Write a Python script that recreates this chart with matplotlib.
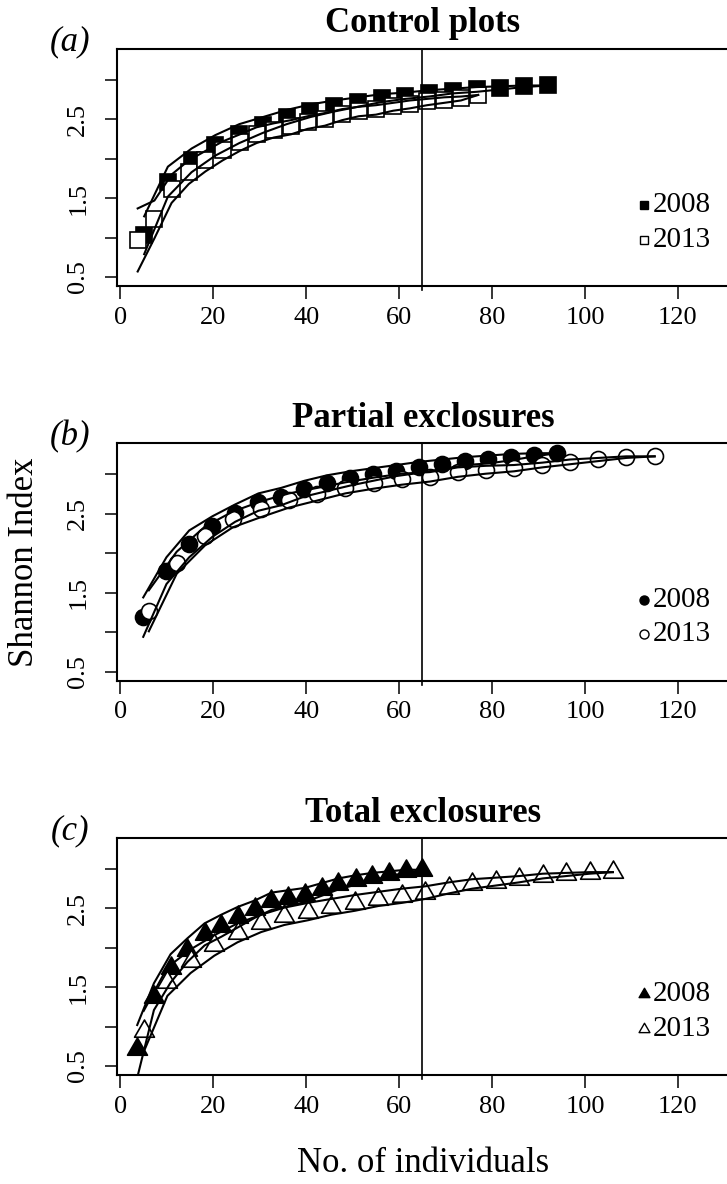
import matplotlib
matplotlib.use("Agg")
import matplotlib.pyplot as plt
from matplotlib.path import Path

plt.rcParams['font.family'] = ['Liberation Serif', 'DejaVu Serif']

# ---------------- rarefied Shannon index: sample sizes, means and CI bounds ----------------
# Control plots
ctrl_x08 = [5.1, 10.2, 15.3, 20.4, 25.6, 30.7, 35.8, 40.9, 46.0, 51.1, 56.2, 61.3, 66.4, 71.6, 76.7, 81.8, 86.9, 92.0]
ctrl_y08 = [1.03, 1.71, 1.98, 2.17, 2.32, 2.43, 2.53, 2.61, 2.67, 2.72, 2.77, 2.80, 2.83, 2.86, 2.88, 2.90, 2.92, 2.93]
ctrl_hi08 = [1.27, 1.90, 2.13, 2.30, 2.44, 2.53, 2.62, 2.69, 2.74, 2.78, 2.82, 2.84, 2.87, 2.89, 2.91, 2.92, 2.93, 2.93]
ctrl_lo08 = [0.79, 1.52, 1.83, 2.04, 2.20, 2.33, 2.44, 2.53, 2.60, 2.66, 2.72, 2.76, 2.79, 2.83, 2.85, 2.88, 2.91, 2.93]
ctrl_x13 = [3.7, 7.3, 11.0, 14.7, 18.3, 22.0, 25.7, 29.3, 33.0, 36.7, 40.3, 44.0, 47.7, 51.3, 55.0, 58.7, 62.3, 66.0, 69.7, 73.3, 77.0]
ctrl_y13 = [0.97, 1.23, 1.62, 1.83, 1.98, 2.11, 2.21, 2.31, 2.37, 2.41, 2.47, 2.51, 2.57, 2.61, 2.63, 2.67, 2.70, 2.73, 2.75, 2.77, 2.81]
ctrl_hi13 = [1.37, 1.47, 1.80, 1.98, 2.10, 2.22, 2.31, 2.40, 2.45, 2.49, 2.54, 2.58, 2.63, 2.66, 2.68, 2.71, 2.74, 2.76, 2.78, 2.79, 2.81]
ctrl_lo13 = [0.57, 0.99, 1.44, 1.68, 1.84, 1.98, 2.10, 2.20, 2.27, 2.31, 2.38, 2.42, 2.49, 2.54, 2.56, 2.61, 2.64, 2.68, 2.71, 2.74, 2.81]

# Partial exclosures
part_x08 = [4.9, 9.9, 14.8, 19.8, 24.7, 29.7, 34.6, 39.6, 44.5, 49.5, 54.4, 59.4, 64.3, 69.3, 74.2, 79.2, 84.1, 89.1, 94.0]
part_y08 = [1.19, 1.78, 2.12, 2.34, 2.51, 2.65, 2.72, 2.82, 2.89, 2.95, 3.00, 3.05, 3.09, 3.13, 3.17, 3.19, 3.22, 3.25, 3.27]
part_hi08 = [1.44, 1.95, 2.29, 2.47, 2.62, 2.76, 2.83, 2.92, 2.99, 3.04, 3.08, 3.12, 3.16, 3.19, 3.22, 3.24, 3.26, 3.27, 3.27]
part_lo08 = [0.94, 1.61, 1.95, 2.21, 2.40, 2.54, 2.61, 2.72, 2.79, 2.86, 2.92, 2.98, 3.02, 3.07, 3.12, 3.14, 3.18, 3.23, 3.27]
part_x13 = [6.1, 12.1, 18.2, 24.2, 30.3, 36.3, 42.4, 48.4, 54.5, 60.5, 66.6, 72.6, 78.7, 84.7, 90.8, 96.8, 102.9, 108.9, 115.0]
part_y13 = [1.27, 1.88, 2.22, 2.43, 2.56, 2.67, 2.75, 2.83, 2.89, 2.94, 2.97, 3.03, 3.06, 3.08, 3.12, 3.16, 3.19, 3.22, 3.23]
part_hi13 = [1.53, 2.02, 2.34, 2.53, 2.66, 2.76, 2.83, 2.90, 2.96, 3.01, 3.03, 3.09, 3.11, 3.12, 3.15, 3.19, 3.21, 3.23, 3.23]
part_lo13 = [1.01, 1.74, 2.10, 2.33, 2.46, 2.58, 2.67, 2.76, 2.82, 2.87, 2.91, 2.97, 3.01, 3.04, 3.09, 3.13, 3.17, 3.21, 3.23]

# Total exclosures
tot_x08 = [3.6, 7.2, 10.8, 14.4, 18.1, 21.7, 25.3, 28.9, 32.5, 36.1, 39.7, 43.3, 46.9, 50.6, 54.2, 57.8, 61.4, 65.0]
tot_y08 = [0.72, 1.38, 1.74, 1.97, 2.17, 2.28, 2.39, 2.49, 2.59, 2.63, 2.67, 2.74, 2.81, 2.86, 2.90, 2.94, 2.97, 2.99]
tot_hi08 = [1.02, 1.55, 1.92, 2.12, 2.31, 2.42, 2.52, 2.60, 2.70, 2.73, 2.76, 2.82, 2.88, 2.92, 2.95, 2.97, 2.99, 2.99]
tot_lo08 = [0.35, 1.21, 1.56, 1.82, 2.03, 2.14, 2.26, 2.38, 2.48, 2.53, 2.58, 2.66, 2.74, 2.80, 2.85, 2.91, 2.95, 2.99]
tot_x13 = [5.0, 10.1, 15.1, 20.2, 25.2, 30.3, 35.3, 40.4, 45.4, 50.5, 55.5, 60.6, 65.6, 70.7, 75.7, 80.8, 85.8, 90.9, 95.9, 101.0, 106.0]
tot_y13 = [0.94, 1.57, 1.83, 2.03, 2.19, 2.31, 2.40, 2.46, 2.52, 2.57, 2.62, 2.66, 2.70, 2.76, 2.81, 2.84, 2.87, 2.91, 2.93, 2.95, 2.96]
tot_hi13 = [1.20, 1.75, 1.98, 2.16, 2.31, 2.42, 2.51, 2.57, 2.62, 2.67, 2.71, 2.75, 2.78, 2.83, 2.87, 2.89, 2.91, 2.94, 2.95, 2.96, 2.96]
tot_lo13 = [0.68, 1.39, 1.68, 1.90, 2.07, 2.20, 2.29, 2.35, 2.42, 2.47, 2.53, 2.57, 2.62, 2.69, 2.75, 2.79, 2.83, 2.88, 2.91, 2.94, 2.96]

titles = ["Control plots", "Partial exclosures", "Total exclosures"]
letters = ["(a)", "(b)", "(c)"]
years = ["2008", "2013"]
x_ticks = [0, 20, 40, 60, 80, 100, 120]
y_ticks = [0.5, 1.0, 1.5, 2.0, 2.5, 3.0]
y_ticklabels = ["0.5", "", "1.5", "", "2.5", ""]
cutoff = 65  # common sample size used for comparison

# ---------------- layout (pixels on a 727 x 1184 canvas) ----------------
W, H = 727, 1184
def fx(px):
    return px / W
def fy(py):
    return 1 - py / H

AX_LEFT, AX_RIGHT, AX_H = 117, 729, 237
tops = [49, 443.5, 838]

triangle = Path([(0, 1), (-0.866, -0.5), (0.866, -0.5), (0, 1)],
                [Path.MOVETO, Path.LINETO, Path.LINETO, Path.CLOSEPOLY])

series = [
    (ctrl_x08, ctrl_y08, ctrl_lo08, ctrl_hi08, ctrl_x13, ctrl_y13, ctrl_lo13, ctrl_hi13, 's', 11.5, 6.0),
    (part_x08, part_y08, part_lo08, part_hi08, part_x13, part_y13, part_lo13, part_hi13, 'o', 11.5, 6.5),
    (tot_x08, tot_y08, tot_lo08, tot_hi08, tot_x13, tot_y13, tot_lo13, tot_hi13, triangle, 16.5, 9.0),
]

fig = plt.figure(figsize=(W / 100, H / 100), dpi=100)

LW = 1.5
for i, (x08, y08, lo08, hi08, x13, y13, lo13, hi13, mk, ms, lms) in enumerate(series):
    top = tops[i]
    ax = fig.add_axes([fx(AX_LEFT), fy(top + AX_H), fx(AX_RIGHT) - fx(AX_LEFT), AX_H / H])

    # points: 2008 filled, 2013 open on top
    ax.plot(x08, y08, linestyle='none', marker=mk, markersize=ms, markerfacecolor='black',
            markeredgecolor='black', markeredgewidth=1.2, zorder=2)
    ax.plot(x13, y13, linestyle='none', marker=mk, markersize=ms, markerfacecolor='white',
            markeredgecolor='black', markeredgewidth=1.2, zorder=2.1)
    # confidence bounds
    for xs, band in ((x08, hi08), (x08, lo08), (x13, hi13), (x13, lo13)):
        ax.plot(xs, band, color='black', lw=LW, zorder=3, solid_joinstyle='round')

    ax.axvline(cutoff, color='black', lw=1.2, ymin=-0.018, ymax=1, clip_on=False, zorder=3)

    ax.set_xlim(-0.75, 131.0)
    ax.set_ylim(0.386, 3.393)
    ax.set_xticks(x_ticks)
    ax.set_xticklabels([str(t) for t in x_ticks])
    ax.set_yticks(y_ticks)
    ax.set_yticklabels(y_ticklabels, rotation=90, va='center')
    ax.tick_params(direction='out', length=9, width=1.1, labelsize=19, colors='black')
    ax.tick_params(axis='x', pad=6)
    ax.tick_params(axis='y', pad=11)
    for s in ax.spines.values():
        s.set_linewidth(1.5)

    # legend
    leg_y = [1.41, 0.97]
    ax.plot([112.6], [leg_y[0]], linestyle='none', marker=mk, markersize=lms,
            markerfacecolor='black', markeredgecolor='black', markeredgewidth=1.0)
    ax.plot([112.6], [leg_y[1]], linestyle='none', marker=mk, markersize=lms,
            markerfacecolor='white', markeredgecolor='black', markeredgewidth=1.0)
    for yy, lab in zip(leg_y, years):
        ax.text(114.6, yy, lab, fontsize=21, ha='left', va='center')

    fig.text(fx(423), fy(top - 25), titles[i], fontsize=25, fontweight='bold',
             ha='center', va='center')
    fig.text(fx(70), fy(top - 7), letters[i], fontsize=25, style='italic',
             ha='center', va='center')

fig.text(fx(25), fy(562), "Shannon Index", fontsize=25, rotation=90, ha='center', va='center')
fig.text(fx(423), fy(1163), "No. of individuals", fontsize=25, ha='center', va='center')

fig.savefig("out.png", dpi=100)
